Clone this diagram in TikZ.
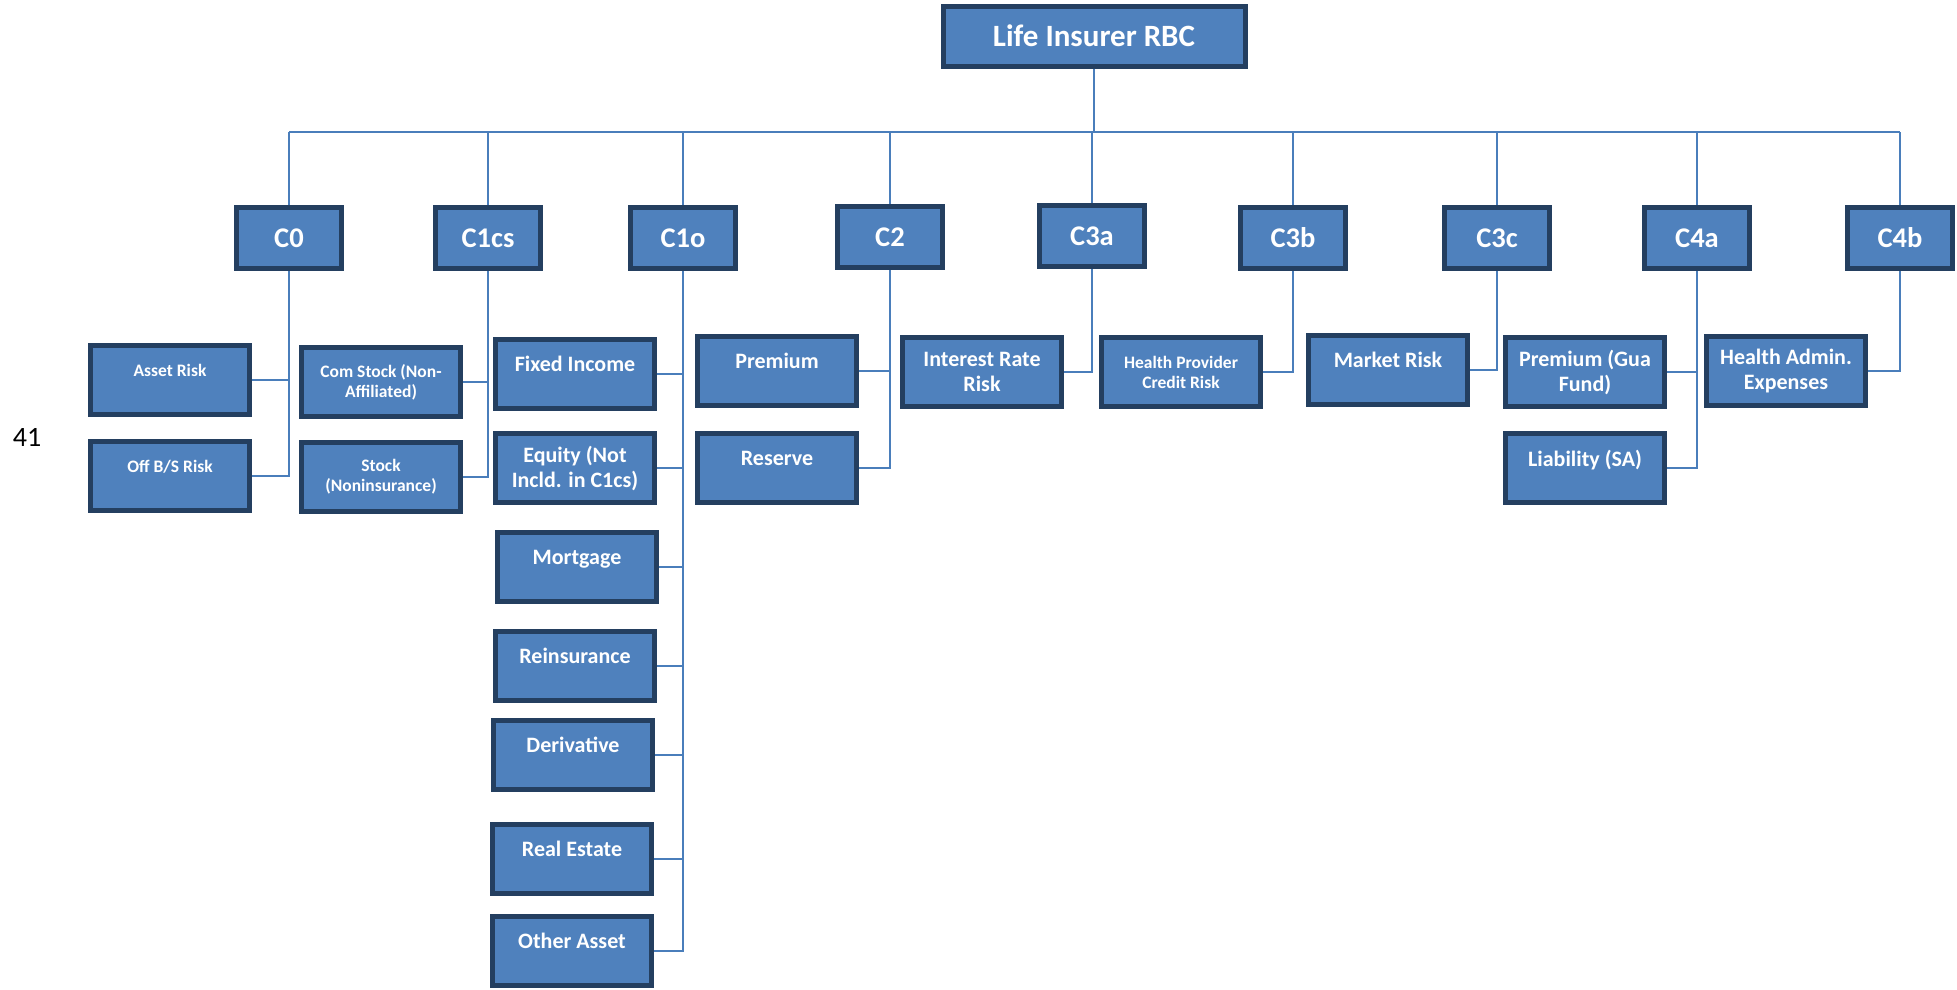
\documentclass[tikz,border=0pt]{standalone}
\usepackage{fontspec}
\setmainfont{Carlito}
\usetikzlibrary{positioning}
\definecolor{BoxBlue}{HTML}{4F81BD}
\definecolor{BoxEdge}{HTML}{243F60}
\definecolor{LinkBlue}{HTML}{4A7EBB}

\begin{document}
\begin{tikzpicture}[x=1pt, y=-1pt,
    box/.style={draw=BoxEdge, line width=5pt, fill=BoxBlue, text=white, align=center, inner sep=0pt},
    rootbox/.style={box, minimum width=302pt, minimum height=60pt, font=\bfseries\fontsize{31}{34}\selectfont},
    capbox/.style={box, minimum width=105pt, minimum height=61pt, font=\bfseries\fontsize{28.5}{31}\selectfont},
    leaf/.style={box, minimum width=159pt, minimum height=69pt, font=\bfseries\fontsize{22}{25}\selectfont},
    smallleaf/.style={leaf, font=\bfseries\fontsize{17.5}{20}\selectfont},
    link/.style={draw=LinkBlue, line width=1.5pt}]
    \useasboundingbox (0,0) rectangle (1957,989);

    \node (pagenum) at (27,437) {\fontsize{28}{30}\selectfont 41};

    \node[rootbox] (rbc) at (1094,36) {Life Insurer RBC};
    \coordinate (bus) at (0,132);

    \node[capbox] (c0)   at (289,238)  {C0};
    \node[capbox] (c1cs) at (488,238)  {C1cs};
    \node[capbox] (c1o)  at (683,238)  {C1o};
    \node[capbox] (c2)   at (890,237)  {C2};
    \node[capbox] (c3a)  at (1092,236) {C3a};
    \node[capbox] (c3b)  at (1293,238) {C3b};
    \node[capbox] (c3c)  at (1497,238) {C3c};
    \node[capbox] (c4a)  at (1697,238) {C4a};
    \node[capbox] (c4b)  at (1900,238) {C4b};

    \node[smallleaf] (asset)  at (170,380) {Asset Risk\\~};
    \node[smallleaf] (offbs)  at (170,476) {Off B/S Risk\\~};
    \node[smallleaf] (comstk) at (381,382) {Com Stock (Non-\\Affiliated)};
    \node[smallleaf] (stock)  at (381,477) {Stock\\(Noninsurance)};

    \node[leaf] (fixed)   at (575,374) {Fixed Income\\[-5pt]~};
    \node[leaf] (equity)  at (575,468) {Equity (Not\\Incld. in C1cs)};
    \node[leaf] (mortg)   at (577,567) {Mortgage\\[-5pt]~};
    \node[leaf] (reins)   at (575,666) {Reinsurance\\[-5pt]~};
    \node[leaf] (deriv)   at (573,755) {Derivative\\[-5pt]~};
    \node[leaf] (realest) at (572,859) {Real Estate\\[-5pt]~};
    \node[leaf] (other)   at (572,951) {Other Asset\\[-5pt]~};

    \node[leaf] (prem)    at (777,371) {Premium\\[-5pt]~};
    \node[leaf] (reserve) at (777,468) {Reserve\\[-5pt]~};
    \node[leaf] (intrate) at (982,372) {Interest Rate\\Risk};
    \node[smallleaf] (hprov) at (1181,372) {Health Provider\\Credit Risk};
    \node[leaf] (market)  at (1388,370) {Market Risk\\[-5pt]~};
    \node[leaf] (premgua) at (1585,372) {Premium (Gua\\Fund)};
    \node[leaf] (liabsa)  at (1585,468) {Liability (SA)\\[-5pt]~};
    \node[leaf] (hadmin)  at (1786,371) {Health Admin.\\Expenses};

    \draw[link] (rbc.south) -- (rbc.south |- bus);
    \draw[link] (c0.north |- bus) -- (c4b.north |- bus);
    \foreach \c in {c0,c1cs,c1o,c2,c3a,c3b,c3c,c4a,c4b}
        \draw[link] (\c.north) -- (\c.north |- bus);

    \foreach \k in {asset,offbs} \draw[link] (\k.east) -| (c0.south);
    \foreach \k in {comstk,stock} \draw[link] (\k.east) -| (c1cs.south);
    \foreach \k in {fixed,equity,mortg,reins,deriv,realest,other} \draw[link] (\k.east) -| (c1o.south);
    \foreach \k in {prem,reserve} \draw[link] (\k.east) -| (c2.south);
    \draw[link] (intrate.east) -| (c3a.south);
    \draw[link] (hprov.east) -| (c3b.south);
    \draw[link] (market.east) -| (c3c.south);
    \foreach \k in {premgua,liabsa} \draw[link] (\k.east) -| (c4a.south);
    \draw[link] (hadmin.east) -| (c4b.south);
\end{tikzpicture}
\end{document}
